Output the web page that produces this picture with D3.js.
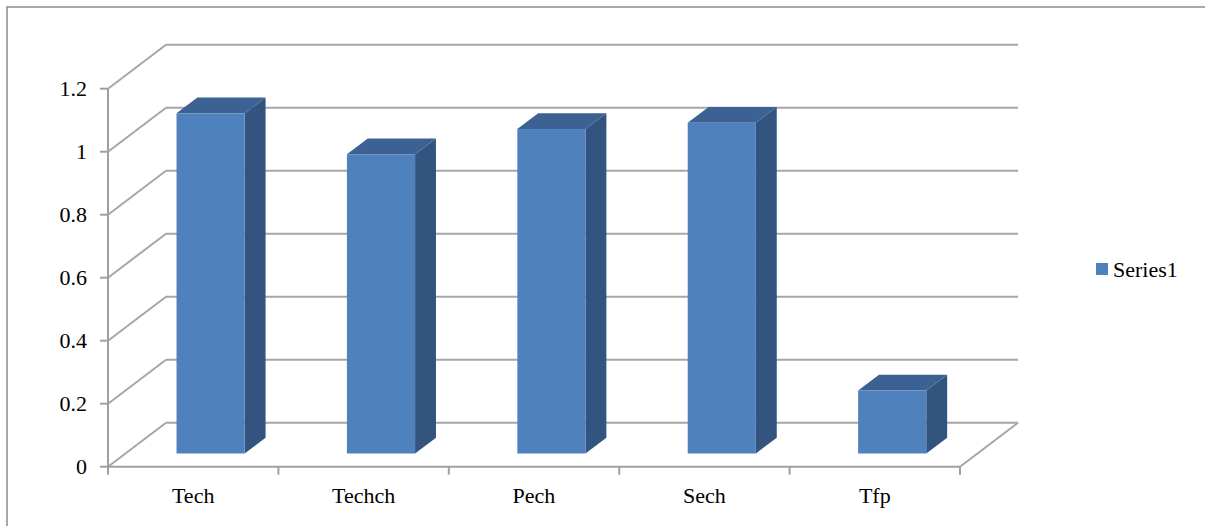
<!DOCTYPE html>
<html>
<head>
<meta charset="utf-8">
<script src="https://cdn.jsdelivr.net/npm/d3@7"></script>
<style>
  body { margin: 0; background: #fff; }
</style>
</head>
<body>
<svg id="chart"></svg>
<script>
const width = 1205;
const height = 526;

// data
const categories = ["Tech", "Techch", "Pech", "Sech", "Tfp"];
const values = [1.08, 0.95, 1.03, 1.05, 0.2];
const yTicks = [0, 0.2, 0.4, 0.6, 0.8, 1, 1.2];
const seriesName = "Series1";

const fontFamily = "'Liberation Serif', 'DejaVu Serif', 'Times New Roman', serif";

// 3d box: front plane and how far the back wall is shifted
const depthX = 58;
const depthY = -44;
const barFront = 0.3;   // fraction of depth where bar front face sits
const barBack = 0.66;

const svg = d3.select("#chart")
    .attr("width", width)
    .attr("height", height)
    .attr("font-family", fontFamily);

// chart border (only top + left fall inside the picture)
svg.append("rect")
    .attr("x", 7).attr("y", 7)
    .attr("width", width + 20).attr("height", height + 20)
    .attr("fill", "none")
    .attr("stroke", "#8c8c8c")
    .attr("stroke-width", 1.5);

const x = d3.scaleBand()
    .domain(categories)
    .range([108, 960])
    .padding(0);

const y = d3.scaleLinear()
    .domain([0, 1.2])
    .range([466.7, 88.7]);

const x0 = x.range()[0];
const x1 = x.range()[1];

const grid = svg.append("g")
    .attr("stroke", "#a6a6a6")
    .attr("stroke-width", 2)
    .attr("fill", "none");

// back wall gridlines
grid.selectAll(".back")
    .data(yTicks)
    .join("line")
    .attr("x1", x0 + depthX)
    .attr("x2", x1 + depthX)
    .attr("y1", d => y(d) + depthY)
    .attr("y2", d => y(d) + depthY);

// side wall gridlines
grid.selectAll(".side")
    .data(yTicks)
    .join("line")
    .attr("x1", x0)
    .attr("x2", x0 + depthX)
    .attr("y1", d => y(d))
    .attr("y2", d => y(d) + depthY);

// floor right edge
grid.append("line")
    .attr("x1", x1).attr("y1", y(0))
    .attr("x2", x1 + depthX).attr("y2", y(0) + depthY);

// value axis
const axisG = svg.append("g").attr("stroke", "#a0a0a0").attr("stroke-width", 2);
axisG.append("line")
    .attr("x1", x0).attr("x2", x0)
    .attr("y1", y(1.2)).attr("y2", y(0) + 1);
axisG.selectAll(".ytick")
    .data(yTicks)
    .join("line")
    .attr("x1", x0 - 8).attr("x2", x0)
    .attr("y1", d => y(d)).attr("y2", d => y(d));

// category axis
axisG.append("line")
    .attr("x1", x0).attr("x2", x1)
    .attr("y1", y(0)).attr("y2", y(0));
axisG.selectAll(".xtick")
    .data(categories.map(c => x(c)).concat([x1]))
    .join("line")
    .attr("x1", d => d).attr("x2", d => d)
    .attr("y1", y(0)).attr("y2", y(0) + 8);

svg.append("g")
    .selectAll("text")
    .data(yTicks)
    .join("text")
    .attr("x", 87)
    .attr("y", d => y(d))
    .attr("dy", "0.35em")
    .attr("text-anchor", "end")
    .attr("font-size", 22)
    .attr("fill", "#000")
    .text(d => d);

svg.append("g")
    .selectAll("text")
    .data(categories)
    .join("text")
    .attr("x", d => x(d) + x.bandwidth() / 2)
    .attr("y", 503)
    .attr("text-anchor", "middle")
    .attr("font-size", 22)
    .attr("fill", "#000")
    .text(d => d);

// bars
const barW = x.bandwidth() * 0.4;
const fx = barFront * depthX, fy = barFront * depthY;
const bx = barBack * depthX, by = barBack * depthY;

const bars = svg.append("g")
    .selectAll("g")
    .data(categories.map((c, i) => ({ cat: c, value: values[i] })))
    .join("g");

function pts(arr) {
    return arr.map(p => p.join(",")).join(" ");
}

bars.each(function (d) {
    const g = d3.select(this);
    const left = x(d.cat) + x.bandwidth() / 2 - barW / 2;
    const right = left + barW;
    const top = y(d.value);
    const bottom = y(0);

    // side face
    g.append("polygon")
        .attr("points", pts([
            [right + fx, top + fy], [right + bx, top + by],
            [right + bx, bottom + by], [right + fx, bottom + fy]
        ]))
        .attr("fill", "#33547e");

    // top face
    g.append("polygon")
        .attr("points", pts([
            [left + fx, top + fy], [left + bx, top + by],
            [right + bx, top + by], [right + fx, top + fy]
        ]))
        .attr("fill", "#3b6292");

    // front face
    g.append("rect")
        .attr("x", left + fx)
        .attr("y", top + fy)
        .attr("width", barW)
        .attr("height", bottom - top)
        .attr("fill", "#4f81bd");
});

// legend
const legend = svg.append("g").attr("transform", "translate(1096,263)");
legend.append("rect")
    .attr("width", 12).attr("height", 12)
    .attr("fill", "#4f81bd");
legend.append("text")
    .attr("x", 17).attr("y", 14)
    .attr("font-size", 22)
    .attr("fill", "#000")
    .text(seriesName);
</script>
</body>
</html>
